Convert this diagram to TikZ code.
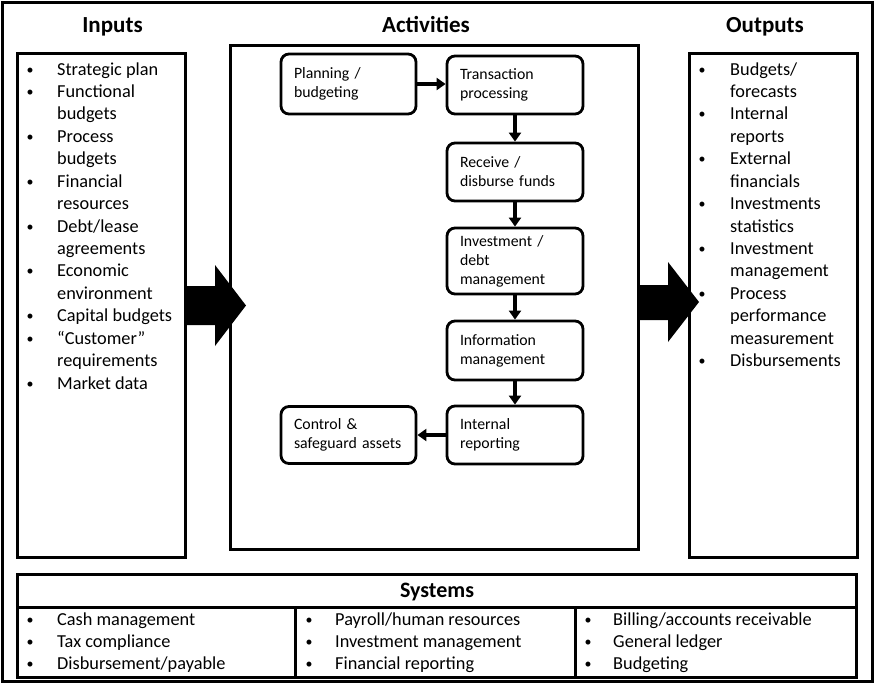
\documentclass[tikz,border=0pt]{standalone}
\usepackage{fontspec}
\setmainfont{Carlito}
\usetikzlibrary{arrows.meta}
\begin{document}
\begin{tikzpicture}[x=1pt,y=-1pt,
  frame/.style={draw,line width=3pt},
  panel/.style={draw,line width=3pt,inner sep=0pt},
  act/.style={draw,line width=2.8pt,rounded corners=8pt,align=left,inner xsep=13pt,inner ysep=0pt,
    font=\fontsize{15.8}{19}\selectfont},
  title/.style={font=\bfseries\fontsize{23}{27}\selectfont,anchor=base,inner sep=0pt},
  item/.style={font=\fontsize{18.3}{22}\selectfont,anchor=base west,inner sep=0pt},
  dot/.style={font=\fontsize{14}{22}\selectfont,anchor=base,inner sep=0pt},
  flow/.style={line width=3.5pt,-{Triangle[length=9pt,width=12pt]}},
  bigarrow/.style={fill=black}]
\useasboundingbox (0,0) rectangle (875,686);
% outer frame
\draw[frame] (2.5,2.5) rectangle (872.5,681);
% panels
\node[panel,minimum width=168pt,minimum height=504pt] (inputs) at (101,305) {};
\node[panel,minimum width=408pt,minimum height=504pt] (activities) at (434,297) {};
\node[panel,minimum width=168pt,minimum height=504pt] (outputs) at (773,305) {};
\node[panel,minimum width=839pt,minimum height=103pt] (systems) at (436.5,625.5) {};
\draw[line width=3pt] (17,607) -- (856,607);
\draw[line width=3pt] (295,607) -- (295,677);
\draw[line width=3pt] (575,607) -- (575,677);
% titles
\node[title] (tin) at (112.5,32.5) {Inputs};
\node[title] (tact) at (426,32.5) {Activities};
\node[title] (tout) at (765,32.5) {Outputs};
\node[title,font=\bfseries\fontsize{22}{26}\selectfont] (tsys) at (437,597) {Systems};
% inputs list
\foreach \b/\t [count=\i from 0] in {1/{Strategic plan},1/{Functional},0/{budgets},1/{Process},0/{budgets},1/{Financial},0/{resources},1/{Debt/lease},0/{agreements},1/{Economic},0/{environment},1/{Capital budgets},1/{“Customer”},0/{requirements},1/{Market data}}{
  \node[item] (in\i) at (57,75+22.43*\i) {\t};
  \ifnum\b=1 \node[dot] (inb\i) at (30,74+22.43*\i) {\textbullet};\fi
}
% outputs list
\foreach \b/\t [count=\i from 0] in {1/{Budgets/},0/{forecasts},1/{Internal},0/{reports},1/{External},0/{financials},1/{Investments},0/{statistics},1/{Investment},0/{management},1/{Process},0/{performance},0/{measurement},1/{Disbursements}}{
  \node[item] (out\i) at (730,75+22.43*\i) {\t};
  \ifnum\b=1 \node[dot] (outb\i) at (702,74+22.43*\i) {\textbullet};\fi
}
% systems lists
\foreach \t [count=\i from 0] in {Cash management,Tax compliance,{Disbursement/payable}}{
  \node[item] (sa\i) at (57,625.5+22*\i) {\t};
  \node[dot] (sab\i) at (30,624.5+22*\i) {\textbullet};
}
\foreach \t [count=\i from 0] in {{Payroll/human resources},Investment management,Financial reporting}{
  \node[item] (sb\i) at (335,625.5+22*\i) {\t};
  \node[dot] (sbb\i) at (309,624.5+22*\i) {\textbullet};
}
\foreach \t [count=\i from 0] in {{Billing/accounts receivable},General ledger,Budgeting}{
  \node[item] (sc\i) at (613,625.5+22*\i) {\t};
  \node[dot] (scb\i) at (588,624.5+22*\i) {\textbullet};
}
% activity boxes
\node[act,text width=109pt,minimum width=135pt,minimum height=60pt] (plan) at (348.5,84) {Planning /\\budgeting};
\node[act,text width=110pt,minimum width=136pt,minimum height=58pt] (trans) at (515,85) {Transaction\\processing};
\node[act,text width=110pt,minimum width=136pt,minimum height=58pt] (recv) at (515,172) {Receive /\\disburse funds};
\node[act,text width=110pt,minimum width=136pt,minimum height=66pt] (inv) at (515,261) {Investment /\\debt\\management};
\node[act,text width=110pt,minimum width=136pt,minimum height=59pt] (info) at (515,350.5) {Information\\management};
\node[act,text width=110pt,minimum width=136pt,minimum height=58pt] (intr) at (515,435) {Internal\\reporting};
\node[act,text width=109pt,minimum width=135pt,minimum height=57pt] (ctrl) at (348.5,435) {Control \&\\safeguard assets};
% connectors
\draw[flow] (plan.east) -- (plan.east -| trans.west);
\draw[flow] (trans) -- (recv);
\draw[flow] (recv) -- (inv);
\draw[flow] (inv) -- (info);
\draw[flow] (info) -- (intr);
\draw[flow] (intr) -- (ctrl);
% big arrows
\fill[bigarrow] (185,286) -- (215,286) -- (215,265) -- (246,305.5) -- (215,346) -- (215,325) -- (185,325) -- cycle;
\fill[bigarrow] (638,285) -- (668,285) -- (668,262) -- (699,302) -- (668,342) -- (668,320) -- (638,320) -- cycle;
\end{tikzpicture}
\end{document}
